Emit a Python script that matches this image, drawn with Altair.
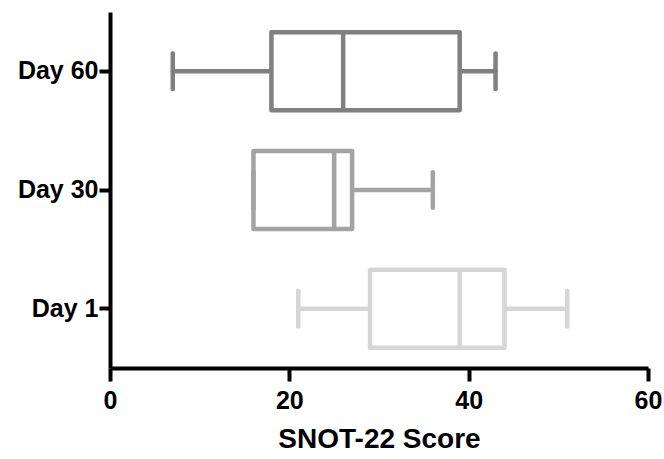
import altair as alt
import pandas as pd

days = ["Day 60", "Day 30", "Day 1"]
mins = [7, 16, 21]
q1s = [18, 16, 29]
medians = [26, 25, 39]
q3s = [39, 27, 44]
maxs = [43, 36, 51]
colors = ["#808080", "#a3a3a3", "#d6d6d6"]

df = pd.DataFrame({"day": days, "mn": mins, "q1": q1s, "med": medians, "q3": q3s, "mx": maxs})

FONT = "Liberation Sans"
ycat = alt.Y("day:N", sort=days, title=None,
             scale=alt.Scale(paddingInner=0, paddingOuter=0))
col = alt.Scale(domain=days, range=colors)
SW = 4.5

base = alt.Chart(df)
whisk_lo = base.mark_rule(strokeWidth=SW, strokeCap="round").encode(
    x=alt.X("mn:Q"), x2="q1:Q", y=ycat,
    stroke=alt.Stroke("day:N", scale=col, legend=None))
whisk_hi = base.mark_rule(strokeWidth=SW, strokeCap="round").encode(
    x=alt.X("q3:Q"), x2="mx:Q", y=ycat,
    stroke=alt.Stroke("day:N", scale=col, legend=None))
box = base.mark_bar(size=78, fill="white", strokeWidth=SW, strokeJoin="round").encode(
    x=alt.X("q1:Q", title="SNOT-22 Score",
            scale=alt.Scale(domain=[0, 60], nice=False),
            axis=alt.Axis(values=[0, 20, 40, 60], grid=False, labelFlush=False)),
    x2="q3:Q", y=ycat,
    stroke=alt.Stroke("day:N", scale=col, legend=None))
med = base.mark_tick(size=78, thickness=SW, opacity=1).encode(
    x="med:Q", y=ycat,
    color=alt.Color("day:N", scale=col, legend=None))
cap_lo = base.mark_tick(size=40, thickness=SW, cornerRadius=2, opacity=1).encode(
    x="mn:Q", y=ycat, color=alt.Color("day:N", scale=col, legend=None))
cap_hi = base.mark_tick(size=40, thickness=SW, cornerRadius=2, opacity=1).encode(
    x="mx:Q", y=ycat, color=alt.Color("day:N", scale=col, legend=None))

chart = alt.layer(whisk_lo, whisk_hi, box, med, cap_lo, cap_hi).properties(
    width=538, height=356,
    autosize=alt.AutoSizeParams(type="none"),
    padding={"left": 110, "top": 12, "right": 16, "bottom": 91},
).configure_view(stroke=None).configure_axis(
    domainColor="black", domainWidth=4, tickColor="black", tickWidth=4, tickSize=13,
    labelFont=FONT, labelFontWeight="bold", labelColor="black",
    titleFont=FONT, titleFontWeight="bold", titleColor="black",
).configure_axisX(
    labelFontSize=25, labelPadding=7, titleFontSize=28, titlePadding=12,
).configure_axisY(
    labelFontSize=25, labelPadding=1, tickSize=11,
)

chart.save("out.html", embed_options={"renderer": "svg", "actions": False})
